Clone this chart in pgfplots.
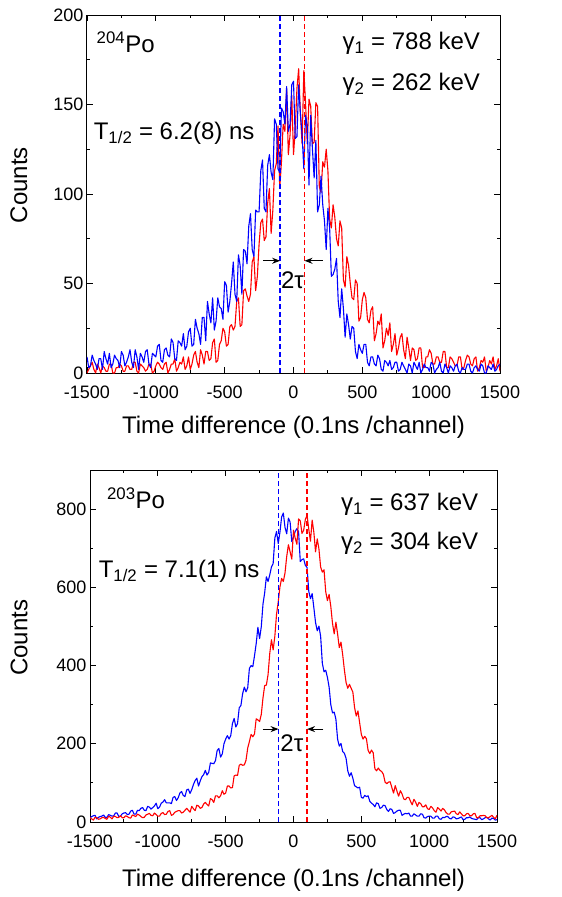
\documentclass[border=0pt]{standalone}
\usepackage{fontspec}
\setmainfont{Liberation Sans}
\usepackage{pgfplots}
\pgfplotsset{compat=1.18}
\usepackage{pgfplotstable}
\usetikzlibrary{arrows.meta}

\newcommand\labfont{\fontsize{24}{28}\selectfont}
\newcommand\tickfont{\fontsize{18}{21}\selectfont}

% 204Po: delayed (blue) and anti-delayed (red) time spectra
\pgfplotstableread{
x tb tr
-1500 9 0
-1487.5 3 2
-1475 4 4
-1462.5 10 6
-1450 7 2
-1437.5 5 0
-1425 2 5
-1412.5 8 3
-1400 8 0
-1387.5 2 4
-1375 12 3
-1362.5 8 1
-1350 5 1
-1337.5 11 5
-1325 3 5
-1312.5 5 0
-1300 10 0
-1287.5 8 3
-1275 7 3
-1262.5 3 5
-1250 12 4
-1237.5 10 1
-1225 4 1
-1212.5 6 4
-1200 9 4
-1187.5 13 2
-1175 6 2
-1162.5 3 6
-1150 13 6
-1137.5 9 1
-1125 2 0
-1112.5 11 5
-1100 9 4
-1087.5 6 3
-1075 12 1
-1062.5 13 2
-1050 5 5
-1037.5 3 5
-1025 11 0
-1012.5 10 1
-1000 9 4
-987.5 15 6
-975 16 5
-962.5 7 3
-950 6 2
-937.5 13 5
-925 14 6
-912.5 10 0
-900 9 2
-887.5 19 5
-875 17 5
-862.5 8 8
-850 7 1
-837.5 18 3
-825 17 6
-812.5 15 5
-800 22 9
-787.5 13 2
-775 15 4
-762.5 23 9
-750 25 2
-737.5 15 5
-725 16 10
-712.5 30 12
-700 25 6
-687.5 22 3
-675 16 13
-662.5 31 10
-650 31 5
-637.5 18 12
-625 40 12
-612.5 33 7
-600 28 8
-587.5 42 17
-575 24 19
-562.5 29 6
-550 42 7
-537.5 37 16
-525 36 18
-512.5 30 25
-500 51 23
-487.5 49 15
-475 34 16
-462.5 40 26
-450 50 27
-437.5 62 24
-425 44 26
-412.5 40 40
-400 66 42
-387.5 60 26
-375 44 27
-362.5 69 46
-350 68 47
-337.5 61 43
-325 82 40
-312.5 89 44
-300 69 62
-287.5 65 65
-275 91 46
-262.5 90 54
-250 90 72
-237.5 113 84
-225 119 86
-212.5 92 74
-200 90 76
-187.5 116 95
-175 122 103
-162.5 112 78
-150 108 91
-137.5 142 113
-125 139 117
-112.5 114 138
-100 112 103
-87.5 148 118
-75 146 139
-62.5 139 135
-50 160 159
-37.5 135 122
-25 139 133
-12.5 161 155
0 163 122
12.5 131 136
25 132 159
37.5 161 170
50 145 145
62.5 133 128
75 114 169
87.5 144 151
100 138 128
112.5 105 153
125 144 149
137.5 125 128
150 109 129
162.5 130 151
175 90 149
187.5 94 104
200 110 101
212.5 94 118
225 85 115
237.5 69 125
250 92 113
262.5 81 86
275 54 81
287.5 55 94
300 58 87
312.5 64 75
325 40 71
337.5 31 85
350 47 81
362.5 36 52
375 20 48
387.5 33 65
400 27 60
412.5 19 50
425 26 42
437.5 25 41
450 12 52
462.5 8 50
475 16 29
487.5 13 31
500 11 41
512.5 16 45
525 16 42
537.5 6 30
550 4 28
562.5 9 35
575 9 37
587.5 5 18
600 4 22
612.5 10 29
625 8 27
637.5 2 33
650 1 14
662.5 7 18
675 6 25
687.5 4 21
700 7 28
712.5 2 12
725 3 16
737.5 6 22
750 6 10
762.5 1 14
775 2 20
787.5 6 22
800 4 13
812.5 2 8
825 0 20
837.5 5 14
850 4 7
862.5 0 14
875 6 13
887.5 4 7
900 2 8
912.5 6 14
925 0 14
937.5 2 3
950 5 3
962.5 3 9
975 3 9
987.5 1 13
1000 6 11
1012.5 5 5
1025 0 5
1037.5 2 9
1050 3 9
1062.5 6 6
1075 1 6
1087.5 0 12
1100 5 12
1112.5 3 3
1125 0 3
1137.5 4 9
1150 3 8
1162.5 1 6
1175 4 4
1187.5 5 4
1200 1 9
1212.5 0 9
1225 3 2
1237.5 2 3
1250 2 7
1262.5 5 10
1275 5 9
1287.5 1 5
1300 0 4
1312.5 3 8
1325 4 9
1337.5 2 1
1350 1 3
1362.5 5 7
1375 4 6
1387.5 0 9
1400 0 1
1412.5 4 3
1425 3 7
1437.5 2 5
1450 5 9
1462.5 1 2
1475 2 4
1487.5 4 8
1500 5 1
}\topdata

% 203Po: delayed (blue) and anti-delayed (red) time spectra
\pgfplotstableread{
x bb br
-1500 10 11
-1487.5 14 8
-1475 16 5
-1462.5 17 12
-1450 8 11
-1437.5 12 7
-1425 14 8
-1412.5 15 11
-1400 18 12
-1387.5 12 9
-1375 12 7
-1362.5 19 15
-1350 17 12
-1337.5 15 8
-1325 16 15
-1312.5 23 14
-1300 23 11
-1287.5 14 12
-1275 15 16
-1262.5 21 11
-1250 23 11
-1237.5 24 16
-1225 19 14
-1212.5 20 11
-1200 28 10
-1187.5 30 18
-1175 20 16
-1162.5 20 14
-1150 30 20
-1137.5 29 18
-1125 35 14
-1112.5 37 11
-1100 30 12
-1087.5 29 18
-1075 40 20
-1062.5 38 22
-1050 33 17
-1037.5 37 16
-1025 41 23
-1012.5 48 19
-1000 34 15
-987.5 38 15
-975 48 22
-962.5 51 24
-950 57 19
-937.5 49 20
-925 49 27
-912.5 49 29
-900 47 17
-887.5 63 19
-875 65 25
-862.5 55 27
-850 62 29
-837.5 74 29
-825 78 23
-812.5 68 25
-800 65 30
-787.5 82 35
-775 84 30
-762.5 73 25
-750 83 40
-737.5 96 34
-725 106 29
-712.5 112 43
-700 92 41
-687.5 105 35
-675 116 37
-662.5 121 46
-650 132 50
-637.5 120 45
-625 127 41
-612.5 151 60
-600 150 57
-587.5 149 50
-575 157 67
-562.5 183 67
-550 188 62
-537.5 166 67
-525 174 80
-512.5 200 71
-500 212 74
-487.5 221 92
-475 212 92
-462.5 221 87
-450 252 88
-437.5 265 118
-425 243 120
-412.5 252 119
-400 292 145
-387.5 298 148
-375 328 145
-362.5 345 146
-350 333 158
-337.5 343 189
-325 393 206
-312.5 400 224
-300 397 218
-287.5 425 225
-275 456 264
-262.5 498 261
-250 469 257
-237.5 499 275
-225 557 317
-212.5 586 349
-200 627 350
-187.5 615 377
-175 632 431
-162.5 652 466
-150 661 440
-137.5 726 475
-125 743 531
-112.5 712 563
-100 741 601
-87.5 780 623
-75 790 615
-62.5 753 637
-50 737 679
-37.5 777 709
-25 767 691
-12.5 717 672
0 728 746
12.5 743 726
25 750 710
37.5 742 775
50 666 770
62.5 671 738
75 673 746
87.5 656 774
100 651 784
112.5 590 749
125 571 718
137.5 584 772
150 548 741
162.5 510 691
175 489 724
187.5 501 698
200 475 652
212.5 406 639
225 384 645
237.5 388 589
250 370 566
262.5 345 582
275 300 551
287.5 279 508
300 281 481
312.5 263 511
325 212 481
337.5 194 446
350 201 460
362.5 180 428
375 176 389
387.5 163 357
400 131 342
412.5 117 352
425 126 342
437.5 112 332
450 93 293
462.5 90 271
475 87 284
487.5 89 254
500 63 224
512.5 61 212
525 68 219
537.5 65 213
550 67 183
562.5 53 175
575 48 184
587.5 45 177
600 39 136
612.5 49 131
625 47 138
637.5 35 132
650 37 129
662.5 43 122
675 42 102
687.5 32 98
700 27 102
712.5 34 103
725 32 88
737.5 22 74
750 24 93
762.5 28 79
775 30 66
787.5 30 80
800 17 72
812.5 20 59
825 22 57
837.5 21 63
850 23 63
862.5 15 53
875 15 44
887.5 21 58
900 18 51
912.5 15 40
925 15 50
937.5 21 47
950 20 39
962.5 11 39
975 10 44
987.5 14 34
1000 15 32
1012.5 15 40
1025 10 36
1037.5 10 29
1050 15 25
1062.5 15 37
1075 8 33
1087.5 7 28
1100 12 35
1112.5 11 31
1125 14 24
1137.5 14 20
1150 9 20
1162.5 8 26
1175 13 27
1187.5 12 28
1200 8 21
1212.5 9 19
1225 11 26
1237.5 13 21
1250 6 16
1262.5 7 16
1275 11 21
1287.5 11 22
1300 13 16
1312.5 9 16
1325 8 21
1337.5 7 22
1350 6 11
1362.5 11 11
1375 11 16
1387.5 6 16
1400 8 17
1412.5 11 16
1425 12 11
1437.5 8 11
1450 5 14
1462.5 10 17
1475 9 12
1487.5 5 8
1500 6 17
}\botdata

\tikzset{
  spectrum/.style={line width=1.1pt, line join=round},
  tauline/.style={line width=1.4pt, dash pattern=on 5pt off 3pt},
  gaparrow/.style={line width=1.1pt, -{Stealth[length=8pt,width=6pt]}},
}

\pgfplotsset{
  panel/.style={
    scale only axis,
    anchor=south west,
    xmin=-1500, xmax=1500,
    xtick={-1500,-1000,...,1500},
    minor x tick num=1,
    minor y tick num=1,
    tick align=inside,
    major tick length=6pt,
    minor tick length=3pt,
    axis line style={line width=1pt},
    every tick/.style={black, line width=0.9pt},
    tick label style={font=\tickfont},
    xticklabel shift=9pt,
    /pgf/number format/assume math mode=true,
    /pgf/number format/1000 sep={},
    label style={font=\labfont},
    xlabel={Time difference (0.1ns /channel)},
    ylabel={Counts},
  },
}

\begin{document}
\begin{tikzpicture}
\useasboundingbox (0pt,0pt) rectangle (562pt,-897pt);

% upper panel: 204Po
\begin{axis}[panel,
  at={(87pt,-373pt)}, width=413pt, height=358pt,
  ymin=0, ymax=200, ytick={0,50,...,200},
  xlabel style={at={(axis description cs:0.5,-0.151)}, anchor=center},
  ylabel style={at={(axis description cs:-0.165,0.525)}, anchor=center}]
\addplot[spectrum, red, mark=none] table[x=x, y=tr] {\topdata};
\addplot[spectrum, blue, mark=none] table[x=x, y=tb] {\topdata};
\addplot[tauline, blue, mark=none] coordinates {(-97,0) (-97,200)};
\addplot[tauline, red, mark=none] coordinates {(80,0) (80,200)};
\draw[gaparrow] (axis cs:-218,62.7) -- (axis cs:-97,62.7);
\draw[gaparrow] (axis cs:213,62.7) -- (axis cs:80,62.7);
\node[anchor=base, font=\labfont] at (axis cs:-7,47) {2τ};
\node[anchor=base west, font=\labfont] at (axis cs:-1455,179) {\textsuperscript{204}Po};
\node[anchor=base east, font=\labfont] at (axis cs:1380,180.5) {γ\textsubscript{1} = 788 keV};
\node[anchor=base east, font=\labfont] at (axis cs:1380,157.7) {γ\textsubscript{2} = 262 keV};
\node[anchor=base west, font=\labfont] at (axis cs:-1476,130.5) {T\textsubscript{1/2} = 6.2(8) ns};
\end{axis}

% lower panel: 203Po
\begin{axis}[panel,
  at={(90pt,-822pt)}, width=407pt, height=352pt,
  ymin=0, ymax=900, ytick={0,200,...,800},
  xlabel style={at={(axis description cs:0.5,-0.165)}, anchor=center},
  ylabel style={at={(axis description cs:-0.174,0.523)}, anchor=center}]
\addplot[spectrum, blue, mark=none] table[x=x, y=bb] {\botdata};
\addplot[spectrum, red, mark=none] table[x=x, y=br] {\botdata};
\addplot[tauline, blue, mark=none] coordinates {(-110,0) (-110,900)};
\addplot[tauline, red, mark=none] coordinates {(100,0) (100,900)};
\draw[gaparrow] (axis cs:-228,237.6) -- (axis cs:-110,237.6);
\draw[gaparrow] (axis cs:221,237.6) -- (axis cs:100,237.6);
\node[anchor=base, font=\labfont] at (axis cs:-12,180) {2τ};
\node[anchor=base west, font=\labfont] at (axis cs:-1400,801.7) {\textsuperscript{203}Po};
\node[anchor=base east, font=\labfont] at (axis cs:1388,795.6) {γ\textsubscript{1} = 637 keV};
\node[anchor=base east, font=\labfont] at (axis cs:1388,697) {γ\textsubscript{2} = 304 keV};
\node[anchor=base west, font=\labfont] at (axis cs:-1461,624.8) {T\textsubscript{1/2} = 7.1(1) ns};
\end{axis}
\end{tikzpicture}
\end{document}
